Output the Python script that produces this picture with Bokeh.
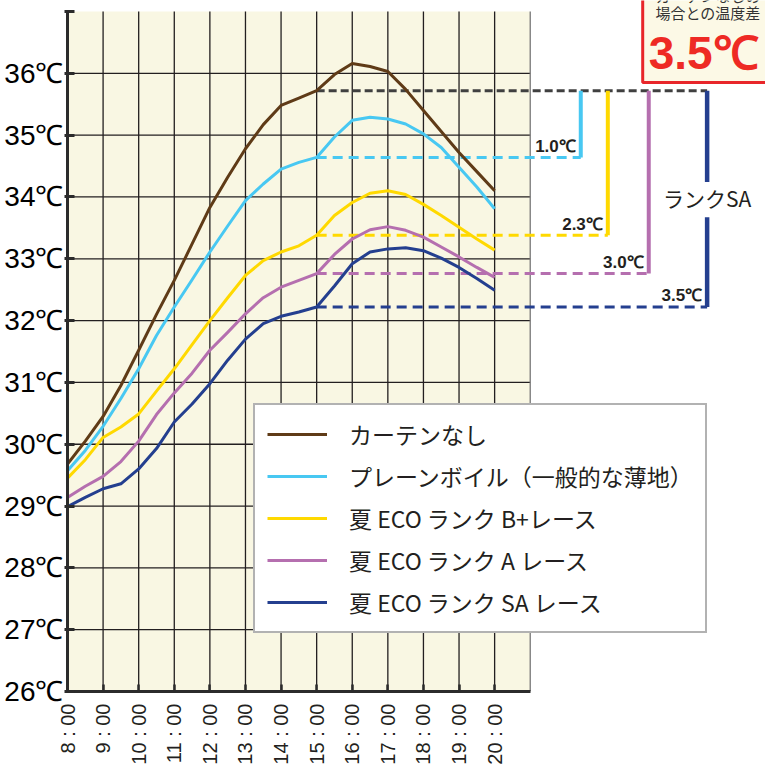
from bokeh.plotting import figure
from bokeh.models import Range1d, FixedTicker, Legend, LegendItem
from bokeh.core.properties import value
from bokeh.embed import file_html
from bokeh.resources import INLINE

# ---------------- data ----------------
hours = [8.0, 8.5, 9.0, 9.5, 10.0, 10.5, 11.0, 11.5, 12.0, 12.5, 13.0, 13.5, 14.0,
         14.5, 15.0, 15.5, 16.0, 16.5, 17.0, 17.5, 18.0, 18.5, 19.0, 19.5, 20.0]

no_curtain = [29.68, 30.05, 30.45, 30.95, 31.52, 32.10, 32.65, 33.24, 33.83, 34.32, 34.78, 35.17, 35.48,
              35.60, 35.72, 35.98, 36.16, 36.11, 36.03, 35.74, 35.40, 35.06, 34.72, 34.41, 34.10]
plain_voile = [29.57, 29.90, 30.29, 30.74, 31.22, 31.76, 32.22, 32.66, 33.11, 33.53, 33.94, 34.21, 34.45,
               34.56, 34.64, 34.97, 35.24, 35.29, 35.26, 35.18, 35.02, 34.80, 34.48, 34.16, 33.81]
eco_bplus = [29.45, 29.75, 30.11, 30.28, 30.49, 30.86, 31.22, 31.61, 32.00, 32.37, 32.73, 32.97, 33.11,
             33.21, 33.38, 33.70, 33.91, 34.06, 34.10, 34.04, 33.88, 33.70, 33.51, 33.32, 33.14]
eco_a = [29.14, 29.32, 29.48, 29.72, 30.05, 30.48, 30.83, 31.15, 31.52, 31.81, 32.11, 32.37, 32.54,
         32.65, 32.76, 33.07, 33.32, 33.47, 33.52, 33.46, 33.35, 33.19, 33.03, 32.86, 32.70]
eco_sa = [28.99, 29.14, 29.28, 29.36, 29.60, 29.93, 30.36, 30.65, 30.98, 31.36, 31.70, 31.95, 32.07,
          32.14, 32.22, 32.56, 32.92, 33.11, 33.16, 33.18, 33.13, 33.01, 32.86, 32.68, 32.49]

series_names = ["カーテンなし", "プレーンボイル（一般的な薄地）", "夏 ECO ランク B+レース",
                "夏 ECO ランク A レース", "夏 ECO ランク SA レース"]
series_colors = ["#5F3B17", "#48C8F2", "#FFD900", "#B56FAF", "#243F8F"]

hour_ticks = [8, 9, 10, 11, 12, 13, 14, 15, 16, 17, 18, 19, 20]
hour_labels = ["8 : 00", "9 : 00", "10 : 00", "11 : 00", "12 : 00", "13 : 00", "14 : 00",
               "15 : 00", "16 : 00", "17 : 00", "18 : 00", "19 : 00", "20 : 00"]
temp_ticks = [26, 27, 28, 29, 30, 31, 32, 33, 34, 35, 36, 37]
temp_labels = ["26℃", "27℃", "28℃", "29℃", "30℃", "31℃", "32℃", "33℃", "34℃", "35℃", "36℃", ""]

compare_hour = 15.0
diff_labels = ["1.0℃", "2.3℃", "3.0℃", "3.5℃"]
bracket_x = [22.42, 23.18, 24.33, 25.97]        # bracket positions (hours axis units)
sa_label = "ランクSA"
sa_gap = (33.67, 34.24)
box_lines = ["カーテンなしの", "場合との温度差", "3.5℃"]

# ---------------- figure ----------------
X0, X1 = 8, 21
Y0, Y1 = 26, 37
p = figure(width=765, height=770, x_range=Range1d(8, 27.61), y_range=Range1d(26, 37.178),
           min_border_left=67, min_border_right=0, min_border_top=0, min_border_bottom=79,
           toolbar_location=None, output_backend="svg", outline_line_color=None,
           background_fill_color="white", border_fill_color="white")
p.xgrid.visible = False
p.ygrid.visible = False

FONT = "Liberation Sans"
JP = "Noto Sans CJK JP"
INK = "#231F20"

# plot area background
p.quad(left=[X0], right=[X1], bottom=[Y0], top=[Y1], fill_color="#F9F7E3", line_color=None)

# grid lines
vx = [h for h in hour_ticks if h > X0]
p.segment(x0=vx, y0=[Y0] * len(vx), x1=vx, y1=[Y1] * len(vx), line_color=INK, line_width=1.3)
hy = [t for t in temp_ticks if Y0 < t < Y1]
p.segment(x0=[X0] * len(hy), y0=hy, x1=[X1] * len(hy), y1=hy, line_color=INK, line_width=1.3)
p.segment(x0=[X1], y0=[Y0], x1=[X1], y1=[Y1], line_color="#777777", line_width=1.3)

# axes
xa = p.xaxis[0]
xa.bounds = (X0, X1)
xa.ticker = FixedTicker(ticks=hour_ticks)
xa.minor_tick_line_color = None
xa.major_label_overrides = {h: l for h, l in zip(hour_ticks, hour_labels)}
xa.major_label_orientation = 1.5708
xa.major_label_text_font = FONT
xa.major_label_text_font_size = "20px"
xa.major_label_text_color = INK
xa.major_label_standoff = 12
xa.axis_line_width = 3
xa.axis_line_color = "#2B2B2B"
xa.major_tick_in = 7
xa.major_tick_out = 0
xa.major_tick_line_width = 2.5
xa.major_tick_line_color = "#2B2B2B"

ya = p.yaxis[0]
ya.bounds = (Y0, Y1)
ya.ticker = FixedTicker(ticks=temp_ticks)
ya.minor_tick_line_color = None
ya.major_label_overrides = {t: l for t, l in zip(temp_ticks, temp_labels)}
ya.major_label_text_font = FONT
ya.major_label_text_font_size = "28px"
ya.major_label_text_color = "black"
ya.major_label_standoff = 1
ya.axis_line_width = 3
ya.axis_line_color = "#2B2B2B"
ya.major_tick_in = 7
ya.major_tick_out = 3
ya.major_tick_line_width = 3
ya.major_tick_line_color = "#2B2B2B"

# comparison brackets
i_cmp = hours.index(compare_hour)
all_series = [no_curtain, plain_voile, eco_bplus, eco_a, eco_sa]
levels = [s[i_cmp] for s in all_series]
base = levels[0]
lower = levels[1:]
bcolors = series_colors[1:]

p.segment(x0=[compare_hour], y0=[base], x1=[bracket_x[-1]], y1=[base],
          line_color="#404040", line_width=3, line_dash="8 4")
p.segment(x0=[compare_hour] * 4, y0=lower, x1=bracket_x, y1=lower,
          line_color=bcolors, line_width=3, line_dash="10 6")
p.segment(x0=bracket_x[:3], y0=[base] * 3, x1=bracket_x[:3], y1=lower[:3],
          line_color=bcolors[:3], line_width=4)
p.segment(x0=[bracket_x[3], bracket_x[3]], y0=[base, sa_gap[0]],
          x1=[bracket_x[3], bracket_x[3]], y1=[sa_gap[1], lower[3]],
          line_color=bcolors[3], line_width=4.5)
p.text(x=bracket_x, y=lower, text=diff_labels, text_align="right", text_baseline="alphabetic",
       x_offset=-5, y_offset=-11, text_font=value(FONT), text_font_style="bold",
       text_font_size="17px", text_color=INK)
p.text(x=[bracket_x[3]], y=[(sa_gap[0] + sa_gap[1]) / 2], text=[sa_label], text_align="center",
       text_baseline="middle", y_offset=-2, text_font=value(JP), text_font_size="21px",
       text_color=INK)

# curves
renderers = []
for s, c in zip(all_series, series_colors):
    r = p.line(hours, s, line_color=c, line_width=3, line_join="round")
    renderers.append(r)

# top-right note box
p.quad(left=[24.16], right=[28.5], bottom=[35.85], top=[37.6], fill_color="#FCF9E6",
       line_color="#E8262A", line_width=3)
p.text(x=[24.52], y=[37.138], text=[box_lines[0]], text_align="left", text_baseline="alphabetic",
       y_offset=-7, text_font=value(JP), text_font_size="15px", text_color="#333333")
p.text(x=[24.52], y=[36.943], text=[box_lines[1]], text_align="left", text_baseline="middle",
       y_offset=-3, text_font=value(JP), text_font_size="15px", text_color="#333333")
p.text(x=[24.33], y=[36.094], text=[box_lines[2]], text_align="left", text_baseline="alphabetic",
       y_offset=-15, text_font=value(FONT), text_font_style="bold", text_font_size="46px",
       text_color="#EE2A24")

# legend
legend = Legend(items=[LegendItem(label=n, renderers=[r]) for n, r in zip(series_names, renderers)],
                location=(186, 58), orientation="vertical", glyph_width=60, glyph_height=30,
                label_height=30, label_standoff=22, spacing=8, padding=12, margin=0,
                label_text_font=JP, label_text_font_size="23px", label_text_color=INK,
                border_line_color="#666666", border_line_width=2,
                background_fill_color="white", background_fill_alpha=1.0)
p.add_layout(legend)

open("out.html", "w").write(file_html(p, INLINE))
